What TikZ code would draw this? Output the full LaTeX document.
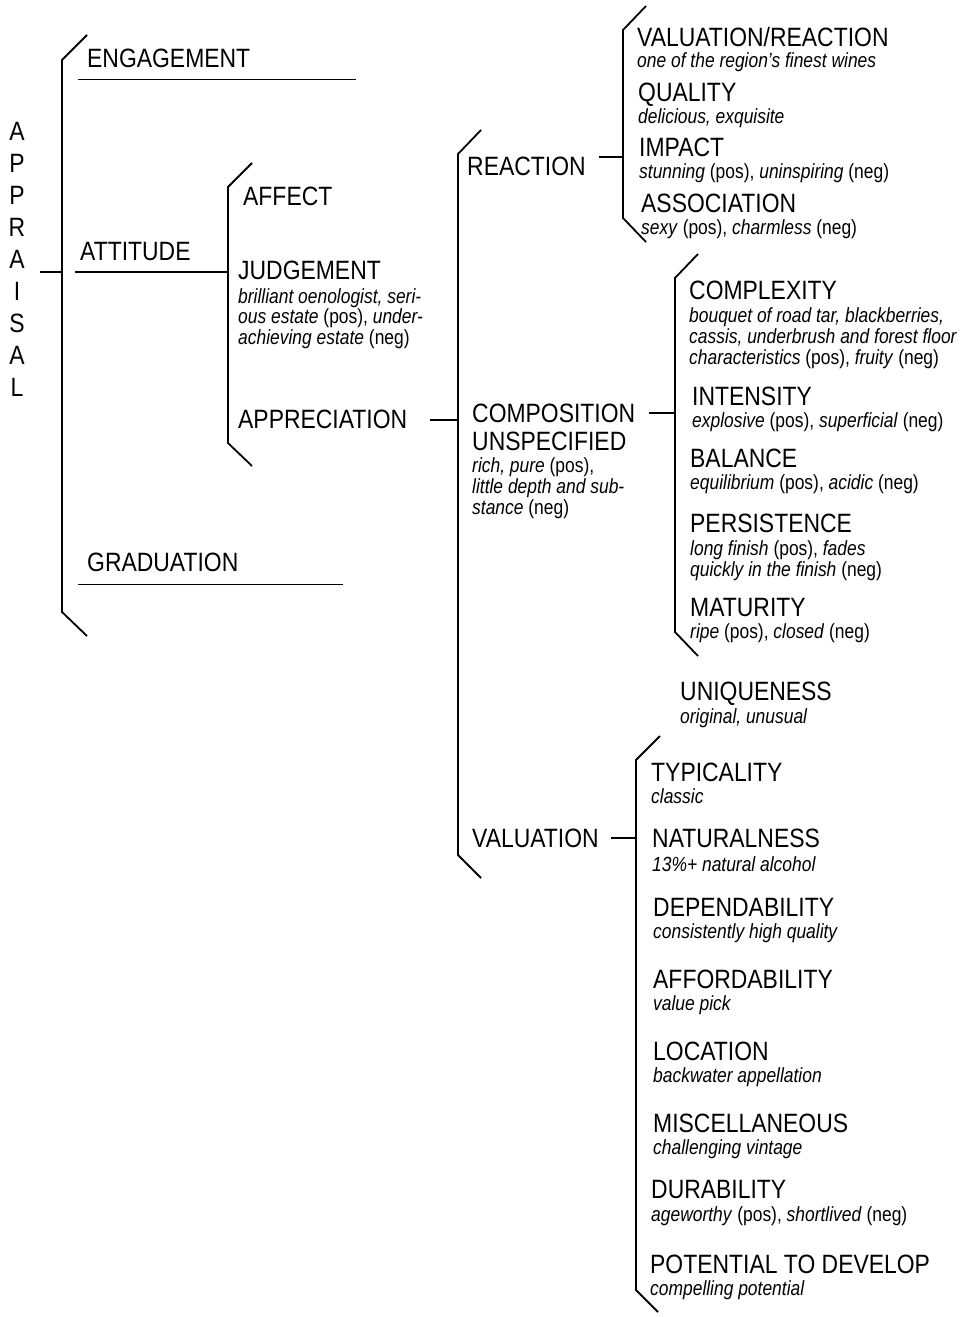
\documentclass[tikz,border=0pt]{standalone}
\usepackage{fontspec}
\setmainfont{Liberation Sans}[FakeStretch=0.85]
\newfontfamily\headfont{Liberation Sans}[FakeStretch=0.865]
\begin{document}
\begin{tikzpicture}[x=1pt,y=-1pt,
  hd/.style={anchor=base west, inner sep=0pt, font=\headfont\fontsize{26.5}{30}\selectfont},
  ds/.style={anchor=base west, inner sep=0pt, font=\fontsize{20.5}{21}\selectfont},
  rule/.style={line width=1.8pt},
  brak/.style={line width=1.8pt, line join=miter}]
\useasboundingbox (0,0) rectangle (964,1317);

% vertical APPRAISAL label
\foreach \l [count=\i from 0] in {A,P,P,R,A,I,S,A,L}
  \node[hd, anchor=base] (ap\i) at (17,140.5+32*\i) {\l};

% first level
\node[hd] (eng)  at (87,67.5)  {ENGAGEMENT};
\node[hd] (att)  at (80,260.5) {ATTITUDE};
\node[hd] (grad) at (87,571.5) {GRADUATION};

% attitude
\node[hd] (aff)   at (243,205.5) {AFFECT};
\node[hd] (judg)  at (238,279.5) {JUDGEMENT};
\node[ds] (judg1) at (238,303)   {\textit{brilliant oenologist, seri-}};
\node[ds] (judg2) at (238,323.5) {\textit{ous estate} (pos), \textit{under-}};
\node[ds] (judg3) at (238,344)   {\textit{achieving estate} (neg)};
\node[hd] (appr)  at (238,428.5) {APPRECIATION};

% appreciation
\node[hd] (react) at (467,175.5) {REACTION};
\node[hd] (comp)  at (472,422.5) {COMPOSITION};
\node[hd] (unsp)  at (472,450.5) {UNSPECIFIED};
\node[ds] (unsp1) at (472,472)   {\textit{rich, pure} (pos),};
\node[ds] (unsp2) at (472,493)   {\textit{little depth and sub-}};
\node[ds] (unsp3) at (472,514)   {\textit{stance} (neg)};
\node[hd] (val)   at (472,847.5) {VALUATION};

% reaction
\node[hd] (vr)     at (637,46.5)  {VALUATION/REACTION};
\node[ds] (vr1)    at (637,67)    {\textit{one of the region’s finest wines}};
\node[hd] (qual)   at (638,101.5) {QUALITY};
\node[ds] (qual1)  at (638,123)   {\textit{delicious, exquisite}};
\node[hd] (imp)    at (639,156.5) {IMPACT};
\node[ds] (imp1)   at (639,178)   {\textit{stunning} (pos), \textit{uninspiring} (neg)};
\node[hd] (assoc)  at (641,212.5) {ASSOCIATION};
\node[ds] (assoc1) at (641,234)   {\textit{sexy} (pos), \textit{charmless} (neg)};

% composition
\node[hd] (cplx)  at (689,299.5) {COMPLEXITY};
\node[ds] (cplx1) at (689,322)   {\textit{bouquet of road tar, blackberries,}};
\node[ds] (cplx2) at (689,343)   {\textit{cassis, underbrush and forest floor}};
\node[ds] (cplx3) at (689,364)   {\textit{characteristics} (pos), \textit{fruity} (neg)};
\node[hd] (intn)  at (692,405.5) {INTENSITY};
\node[ds] (intn1) at (692,427)   {\textit{explosive} (pos), \textit{superficial} (neg)};
\node[hd] (bal)   at (690,467.5) {BALANCE};
\node[ds] (bal1)  at (690,489)   {\textit{equilibrium} (pos), \textit{acidic} (neg)};
\node[hd] (pers)  at (690,532.5) {PERSISTENCE};
\node[ds] (pers1) at (690,555)   {\textit{long finish} (pos), \textit{fades}};
\node[ds] (pers2) at (690,576)   {\textit{quickly in the finish} (neg)};
\node[hd] (mat)   at (690,616.5) {MATURITY};
\node[ds] (mat1)  at (690,638)   {\textit{ripe} (pos), \textit{closed} (neg)};
\node[hd] (uniq)  at (680,700.5) {UNIQUENESS};
\node[ds] (uniq1) at (680,723)   {\textit{original, unusual}};

% valuation
\node[hd] (typ)   at (651,781.5)  {TYPICALITY};
\node[ds] (typ1)  at (651,803)    {\textit{classic}};
\node[hd] (nat)   at (652,847.5)  {NATURALNESS};
\node[ds] (nat1)  at (652,871)    {\textit{13\%+ natural alcohol}};
\node[hd] (dep)   at (653,916.5)  {DEPENDABILITY};
\node[ds] (dep1)  at (653,938)    {\textit{consistently high quality}};
\node[hd] (afd)   at (653,988.5)  {AFFORDABILITY};
\node[ds] (afd1)  at (653,1010)   {\textit{value pick}};
\node[hd] (loc)   at (653,1060.5) {LOCATION};
\node[ds] (loc1)  at (653,1082)   {\textit{backwater appellation}};
\node[hd] (misc)  at (653,1132.5) {MISCELLANEOUS};
\node[ds] (misc1) at (653,1154)   {\textit{challenging vintage}};
\node[hd] (dur)   at (651,1198.5) {DURABILITY};
\node[ds] (dur1)  at (651,1221)   {\textit{ageworthy} (pos), \textit{shortlived} (neg)};
\node[hd] (pot)   at (650,1273.5) {POTENTIAL TO DEVELOP};
\node[ds] (pot1)  at (650,1295)   {\textit{compelling potential}};

% bracket spines: top tip, top corner, bottom corner, bottom tip
\draw[brak] (87,35)   -- (62,60)   -- (62,612)   -- (87,636);
\draw[brak] (252,163) -- (228,187) -- (228,443)  -- (252,466);
\draw[brak] (481,130) -- (458,154) -- (458,855)  -- (481,878);
\draw[brak] (646,6)   -- (623,30)  -- (623,218)  -- (646,242);
\draw[brak] (698,254) -- (675,278) -- (675,632)  -- (698,656);
\draw[brak] (660,736) -- (636,760) -- (636,1290) -- (658,1312);

% entry points on the spines
\coordinate (sysA) at (62,272);
\coordinate (sysT) at (228,272);
\coordinate (sysP) at (458,420);
\coordinate (sysR) at (623,157);
\coordinate (sysC) at (675,413);
\coordinate (sysV) at (636,838);

% connectors and rules
\coordinate (apIn) at (40,272);
\draw[rule] (apIn) -- (sysA);
\draw[rule] (att.south west |- sysT) ++(-5,0) -- (sysT);
\draw[rule] ([xshift=-9pt,yshift=-11.5pt]eng.south west) -- ([xshift=106pt,yshift=-11.5pt]eng.south east);
\draw[rule] ([xshift=-9pt,yshift=-12.5pt]grad.south west) -- ([xshift=104pt,yshift=-12.5pt]grad.south east);
\draw[rule] ([xshift=23pt]appr.east |- sysP) -- (sysP);
\draw[rule] ([xshift=13pt]react.east |- sysR) -- (sysR);
\draw[rule] ([xshift=14pt]comp.east |- sysC) -- (sysC);
\draw[rule] ([xshift=12pt]val.east |- sysV) -- (sysV);
\end{tikzpicture}
\end{document}
